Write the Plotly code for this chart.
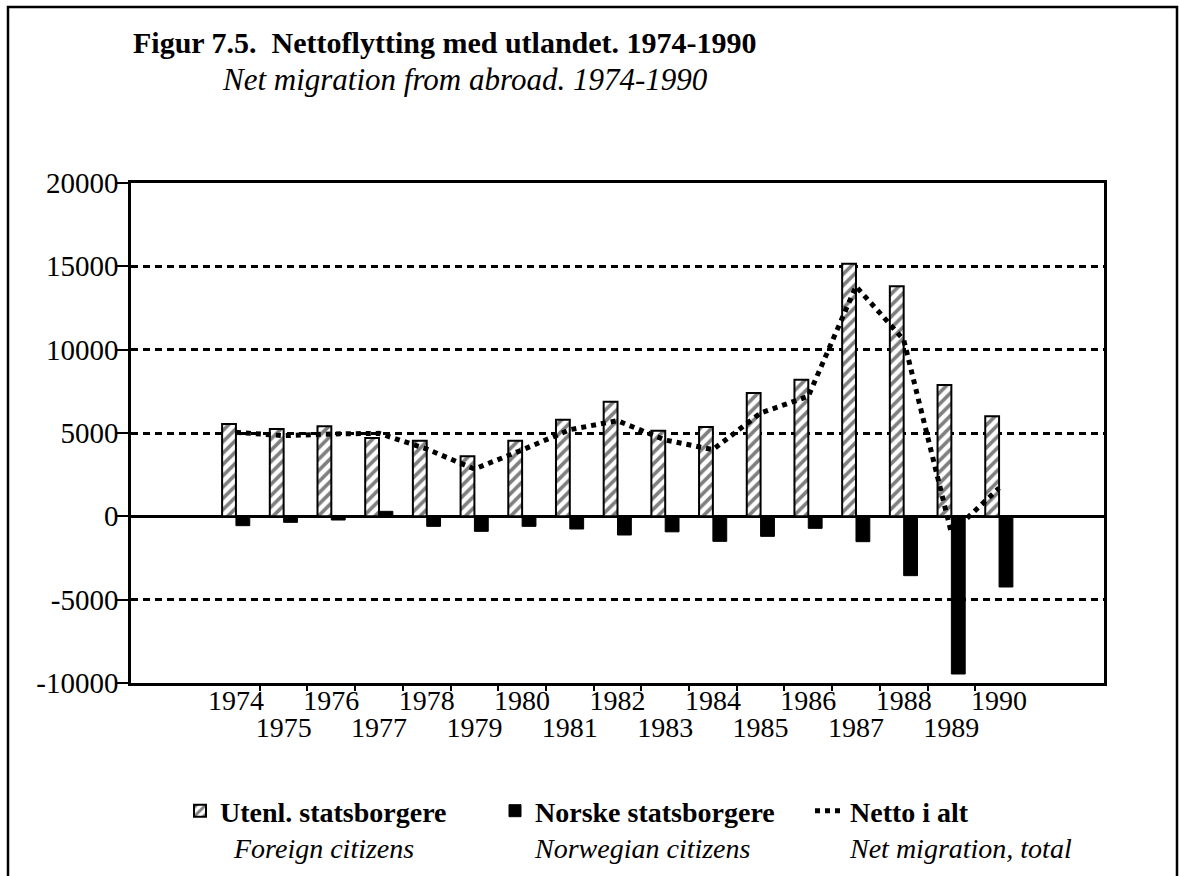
import plotly.graph_objects as go

# ---- data ----
years = list(range(1974, 1991))
foreign = [5540, 5240, 5400, 4700, 4540, 3600, 4540, 5800, 6880, 5140,
           5360, 7400, 8200, 15150, 13800, 7880, 6000]
norwegian = [-560, -360, -220, 300, -600, -900, -600, -760, -1120, -930,
             -1500, -1200, -720, -1520, -3560, -9460, -4240]
net_total = [5040, 4840, 4940, 4980, 4040, 2840, 3980, 5200, 5740, 4580,
             4000, 6200, 7200, 13800, 10600, -1000, 1700]
y_ticks = [-10000, -5000, 0, 5000, 10000, 15000, 20000]
y_labels = ["-10000", "-5000", "0", "5000", "10000", "15000", "20000"]
even_years = [y for y in years if y % 2 == 0]
odd_years = [y for y in years if y % 2 == 1]
boundaries = [y + 0.5 for y in years[:-1]]

title_main = "Figur 7.5.  Nettoflytting med utlandet. 1974-1990"
title_sub = "Net migration from abroad. 1974-1990"
name_foreign = "<b>Utenl. statsborgere</b><br><i>&nbsp;&nbsp;Foreign citizens</i>"
name_norw = "<b>Norske statsborgere</b><br><i>Norwegian citizens</i>"
name_net = "<b>Netto i alt</b><br><i>Net migration, total</i>"

FONT = "Liberation Serif"
W, H = 1179, 876
L, R, T, B = 131, 1104, 183, 683
XR = [1971.8, 1992.2]
BW = 0.29  # bar width in category units

def px_x(p):
    return (p - L) / (R - L)

def px_y(p):
    return (B - p) / (B - T)

fig = go.Figure()
fig.add_trace(go.Bar(
    x=years, y=foreign, name=name_foreign, xaxis="x",
    width=BW, offset=-BW,
    marker=dict(color="white", line=dict(color="black", width=2),
                pattern=dict(shape="/", fgcolor="black", bgcolor="white",
                             size=8, solidity=0.45)),
))
fig.add_trace(go.Bar(
    x=years, y=norwegian, name=name_norw, xaxis="x2",
    width=BW, offset=0,
    marker=dict(color="black", line=dict(color="black", width=1)),
))
fig.add_trace(go.Scatter(
    x=years, y=net_total, name=name_net, mode="lines", xaxis="x3",
    line=dict(color="black", width=5, dash="5px,5px"),
))

common_x = dict(range=XR, showgrid=False, zeroline=False, fixedrange=True)

fig.update_layout(
    width=W, height=H,
    margin=dict(l=L, r=W - R, t=T, b=H - B, autoexpand=False),
    paper_bgcolor="white", plot_bgcolor="white",
    barmode="overlay",
    font=dict(family=FONT, size=27, color="black"),
    showlegend=True,
    legend=dict(orientation="h", x=px_x(180), y=px_y(786), xanchor="left",
                yanchor="top", valign="top", font=dict(size=28),
                traceorder="normal", itemwidth=30, bgcolor="rgba(0,0,0,0)",
                entrywidth=270, entrywidthmode="pixels"),
    xaxis=dict(**common_x, tickmode="array", tickvals=even_years,
               ticktext=[str(y) for y in even_years], ticks="",
               showline=True, linecolor="black", linewidth=2.5, mirror=True,
               ticklabelstandoff=-9, tickfont=dict(size=28)),
    xaxis2=dict(**common_x, overlaying="x", anchor="y", side="bottom",
                tickmode="array", tickvals=odd_years,
                ticktext=[str(y) for y in odd_years], ticks="",
                showline=False, ticklabelstandoff=25,
                tickfont=dict(size=28)),
    xaxis3=dict(**common_x, overlaying="x", anchor="y", side="bottom",
                tickmode="array", tickvals=boundaries,
                ticktext=[""] * len(boundaries), ticks="outside",
                ticklen=7, tickwidth=2, tickcolor="black", showline=False),
    yaxis=dict(range=[-10000, 20000], tickmode="array", tickvals=y_ticks,
               ticktext=y_labels, ticks="outside", ticklen=11, tickwidth=2,
               tickcolor="black", showline=True, linecolor="black",
               linewidth=2.5, mirror=True, showgrid=True, gridcolor="black",
               gridwidth=2.5, griddash="7px,5px", zeroline=True,
               zerolinecolor="black", zerolinewidth=2.5,
               ticklabelstandoff=-7, tickfont=dict(size=29), fixedrange=True),
    annotations=[
        dict(text="<b>" + title_main + "</b>", xref="paper", yref="paper",
             x=px_x(131), y=px_y(42), xanchor="left", yanchor="middle",
             showarrow=False, font=dict(size=30, family=FONT)),
        dict(text="<i>" + title_sub + "</i>", xref="paper", yref="paper",
             x=px_x(220), y=px_y(79), xanchor="left", yanchor="middle",
             showarrow=False, font=dict(size=31, family=FONT)),
    ],
    shapes=[
        dict(type="rect", xref="paper", yref="paper",
             x0=px_x(8), x1=px_x(1177), y0=px_y(890), y1=px_y(7),
             line=dict(color="black", width=2.5), layer="below"),
    ],
)

fig.write_html("out.html", config={"displayModeBar": False},
               post_script="document.body.style.margin='0';"
                           "document.body.style.overflow='hidden';")
